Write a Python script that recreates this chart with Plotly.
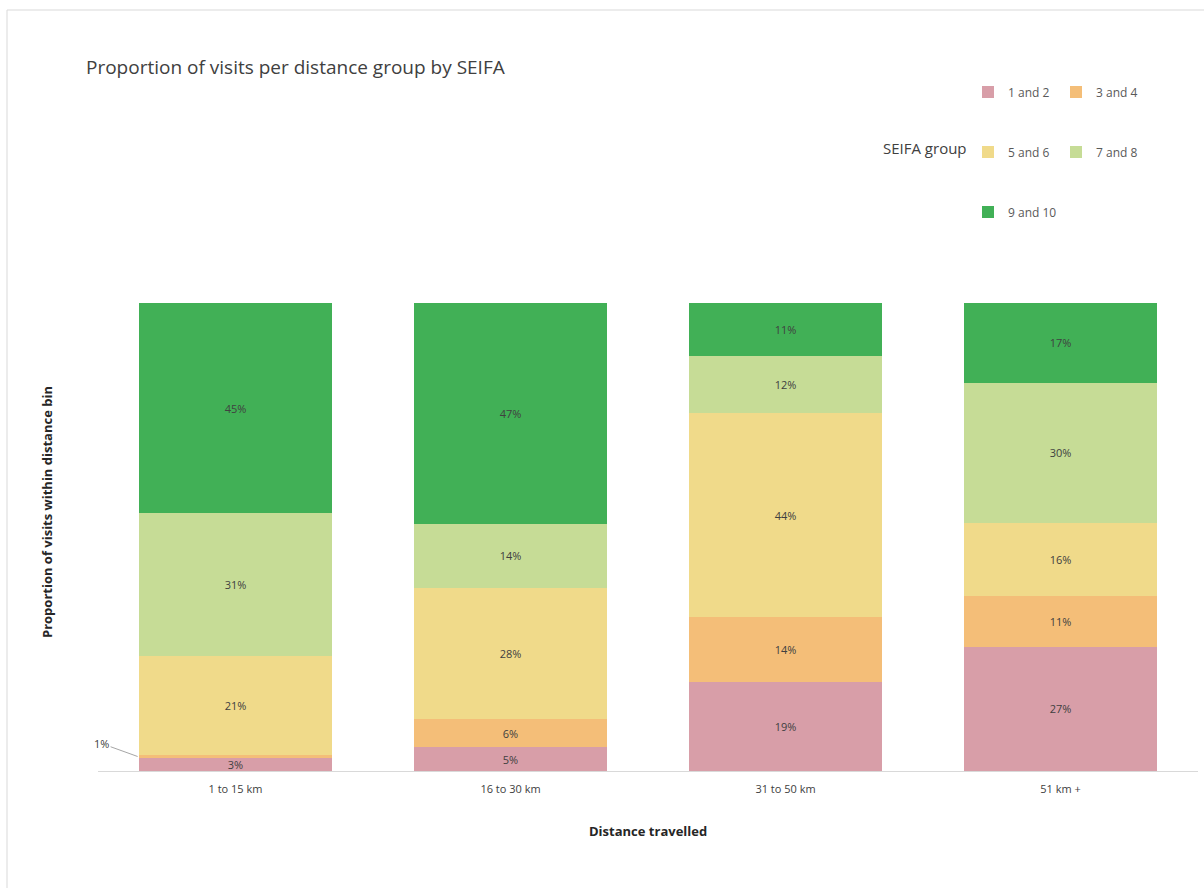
import plotly.graph_objects as go

categories = ["1 to 15 km", "16 to 30 km", "31 to 50 km", "51 km +"]
groups = ["1 and 2", "3 and 4", "5 and 6", "7 and 8", "9 and 10"]
seifa_1_2 = [2.8, 5.1, 19.0, 26.6]
seifa_3_4 = [0.6, 6.0, 13.9, 10.7]
seifa_5_6 = [21.1, 28.0, 43.6, 15.6]
seifa_7_8 = [30.6, 13.7, 12.2, 30.1]
seifa_9_10 = [44.9, 47.2, 11.3, 17.0]
series = [seifa_1_2, seifa_3_4, seifa_5_6, seifa_7_8, seifa_9_10]
colors = ["#d89ea8", "#f4be78", "#f0da8a", "#c6dc96", "#41b056"]

W, H = 1204, 888
L, R, T, B = 98, 6, 303, 117
PW, PH = W - L - R, H - T - B

def px_x(px):
    return (px - L) / PW

def px_y(py):
    return (H - B - py) / PH

FONT = "Open Sans"
fig = go.Figure()
legend_names = ["legend", "legend2", "legend3", "legend4", "legend5"]
for i, (name, vals, col) in enumerate(zip(groups, series, colors)):
    labels = [f"{round(v)}%" if v >= 2 else "" for v in vals]
    fig.add_trace(go.Bar(
        x=categories, y=vals, name=name, marker=dict(color=col, line=dict(width=0)),
        text=labels, textposition="inside", insidetextanchor="middle", textangle=0,
        textfont=dict(family=FONT, size=11, color="#404040"),
        legend=legend_names[i],
    ))

leg_pos = [(968, 92), (1056, 92), (968, 152), (1056, 152), (968, 212)]
legend_layout = {}
for ln, (lx, ly) in zip(legend_names, leg_pos):
    legend_layout[ln] = dict(
        x=px_x(lx), y=px_y(ly), xanchor="left", yanchor="middle",
        font=dict(family=FONT, size=12, color="#595959"),
        bgcolor="rgba(0,0,0,0)", itemwidth=30,
    )

fig.update_layout(
    width=W, height=H,
    margin=dict(l=L, r=R, t=T, b=B, autoexpand=False),
    barmode="stack", bargap=0.295,
    plot_bgcolor="white", paper_bgcolor="white",
    font=dict(family=FONT, color="#404040"),
    uniformtext=dict(minsize=11, mode="show"),
    title=dict(text="Proportion of visits per distance group by SEIFA",
               x=86 / W, xanchor="left", y=1 - 67 / H, yanchor="middle",
               font=dict(family=FONT, size=19, color="#404040")),
    xaxis=dict(range=[-0.5, len(categories) - 0.5], showline=True, linecolor="#d9d9d9",
               linewidth=1, ticks="", showgrid=False, zeroline=False, ticklabelstandoff=8,
               tickfont=dict(family=FONT, size=11, color="#404040")),
    yaxis=dict(range=[0, 100], showticklabels=False, showgrid=False,
               zeroline=False, showline=False, ticks=""),
    showlegend=True,
    **legend_layout,
)

fig.add_annotation(text="<b>Distance travelled</b>", xref="paper", yref="paper",
                   x=0.5, y=px_y(831), xanchor="center", yanchor="middle",
                   showarrow=False, font=dict(family=FONT, size=13, color="#262626"))
fig.add_annotation(text="<b>Proportion of visits within distance bin</b>", xref="paper", yref="paper",
                   x=px_x(47), y=px_y(512), xanchor="center", yanchor="middle", textangle=-90,
                   showarrow=False, font=dict(family=FONT, size=13, color="#262626"))
fig.add_annotation(text="SEIFA group", xref="paper", yref="paper",
                   x=px_x(969), y=px_y(148), xanchor="right", yanchor="middle",
                   showarrow=False, font=dict(family=FONT, size=15, color="#404040"))
fig.add_annotation(text=f"{round(seifa_3_4[0])}%", x=-0.356, y=seifa_1_2[0] + seifa_3_4[0] / 2,
                   xref="x", yref="y", ax=-36, ay=-13, showarrow=True, arrowhead=0,
                   arrowwidth=1, arrowcolor="#a6a6a6", standoff=0,
                   font=dict(family=FONT, size=11, color="#404040"))
fig.add_shape(type="rect", xref="paper", yref="paper",
              x0=px_x(7), x1=px_x(1230), y0=px_y(910), y1=px_y(10),
              line=dict(color="#d9d9d9", width=1), fillcolor="rgba(0,0,0,0)", layer="below")

fig.write_html("out.html")
